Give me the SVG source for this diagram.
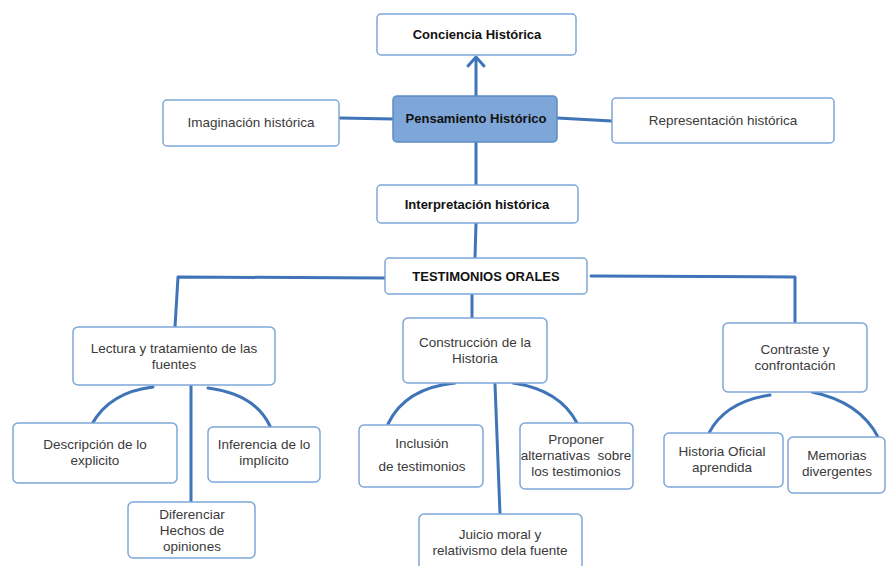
<svg xmlns="http://www.w3.org/2000/svg" width="889" height="566" viewBox="0 0 889 566">
<style>
.box{fill:#ffffff;stroke:#7ea6d8;stroke-width:1.5}
.main{fill:#7ea6d8;stroke:#5d8bc6;stroke-width:1.5}
.t{font-family:"Liberation Sans",Arial,sans-serif;font-size:13.5px;fill:#3a3a3a;text-anchor:middle}
.b{font-family:"Liberation Sans",Arial,sans-serif;font-size:13px;font-weight:bold;fill:#111111;text-anchor:middle}
.c{fill:none;stroke:#3f74b8;stroke-width:3;stroke-linecap:round;stroke-linejoin:round}
</style>
<rect width="889" height="566" fill="#ffffff"/>
<g id="connectors">
<path class="c" d="M476,95 L476,58"/>
<path class="c" d="M468,66 L476,57 L484,66"/>
<path class="c" d="M340,118 L393,119"/>
<path class="c" d="M557,118 L612,121"/>
<path class="c" d="M476,142 L476,185"/>
<path class="c" d="M476,223 L475,258"/>
<path class="c" d="M385,278 L178,277 L175,327"/>
<path class="c" d="M591,276 L795,277 L795,322"/>
<path class="c" d="M472,294 L472,318"/>
<path class="c" d="M153,387 Q110,392 92,424"/>
<path class="c" d="M208,388 Q255,394 270,426"/>
<path class="c" d="M191,386 L191,502"/>
<path class="c" d="M455,383 Q405,388 388,424"/>
<path class="c" d="M513,383 Q560,390 577,423"/>
<path class="c" d="M495,384 L500,514"/>
<path class="c" d="M770,395 Q725,402 709,433"/>
<path class="c" d="M812,392 Q860,402 878,437"/>
</g>
<g id="conciencia"><rect class="box" x="377" y="14" width="199" height="41" rx="4"/><text class="b" x="477" y="39">Conciencia Histórica</text></g>
<g id="imaginacion"><rect class="box" x="163" y="100" width="176" height="46" rx="4"/><text class="t" x="251" y="127">Imaginación histórica</text></g>
<g id="pensamiento"><rect class="main" x="393" y="96" width="164" height="46" rx="4"/><text class="b" x="476" y="123">Pensamiento Histórico</text></g>
<g id="representacion"><rect class="box" x="612" y="98" width="222" height="45" rx="4"/><text class="t" x="723" y="125">Representación histórica</text></g>
<g id="interpretacion"><rect class="box" x="377" y="185" width="201" height="38" rx="4"/><text class="b" x="477" y="209">Interpretación histórica</text></g>
<g id="testimonios"><rect class="box" x="385" y="258" width="202" height="36" rx="4"/><text class="b" x="486" y="281">TESTIMONIOS ORALES</text></g>
<g id="lectura"><rect class="box" x="73" y="327" width="202" height="58" rx="5"/><text class="t" x="174" y="353">Lectura y tratamiento de las</text><text class="t" x="174" y="369">fuentes</text></g>
<g id="construccion"><rect class="box" x="403" y="318" width="144" height="65" rx="5"/><text class="t" x="475" y="347">Construcción de la</text><text class="t" x="475" y="363">Historia</text></g>
<g id="contraste"><rect class="box" x="723" y="323" width="144" height="69" rx="5"/><text class="t" x="795" y="354">Contraste y</text><text class="t" x="795" y="370">confrontación</text></g>
<g id="descripcion"><rect class="box" x="13" y="423" width="164" height="60" rx="5"/><text class="t" x="95" y="449">Descripción de lo</text><text class="t" x="95" y="465">explicito</text></g>
<g id="inferencia"><rect class="box" x="208" y="427" width="112" height="55" rx="5"/><text class="t" x="264" y="449">Inferencia de lo</text><text class="t" x="264" y="465">implícito</text></g>
<g id="diferenciar"><rect class="box" x="128" y="502" width="127" height="56" rx="5"/><text class="t" x="192" y="519">Diferenciar</text><text class="t" x="192" y="535">Hechos de</text><text class="t" x="192" y="551">opiniones</text></g>
<g id="inclusion"><rect class="box" x="359" y="425" width="124" height="62" rx="5"/><text class="t" x="422" y="448">Inclusión</text><text class="t" x="422" y="471">de testimonios</text></g>
<g id="proponer"><rect class="box" x="520" y="423" width="113" height="66" rx="5"/><text class="t" x="576" y="444">Proponer</text><text class="t" x="576" y="460" xml:space="preserve">alternativas  sobre</text><text class="t" x="576" y="476">los testimonios</text></g>
<g id="juicio"><rect class="box" x="419" y="514" width="163" height="60" rx="5"/><text class="t" x="500" y="539">Juicio moral y</text><text class="t" x="500" y="555">relativismo dela fuente</text></g>
<g id="historia-oficial"><rect class="box" x="664" y="433" width="119" height="54" rx="5"/><text class="t" x="722" y="456">Historia Oficial</text><text class="t" x="722" y="472">aprendida</text></g>
<g id="memorias"><rect class="box" x="788" y="437" width="97" height="56" rx="5"/><text class="t" x="837" y="460">Memorias</text><text class="t" x="837" y="476">divergentes</text></g>
</svg>
